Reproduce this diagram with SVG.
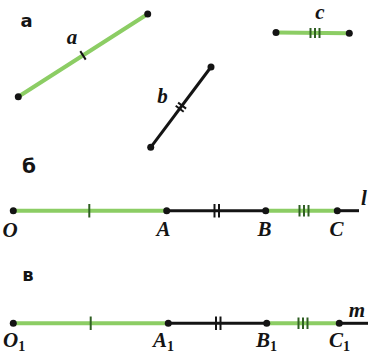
<svg xmlns="http://www.w3.org/2000/svg" width="369" height="360" viewBox="0 0 369 360">
<style>
.g{stroke:#8ccd64;stroke-width:4;stroke-linecap:round;fill:none}
.k{stroke:#141414;stroke-width:3;fill:none}
.tg{stroke:#2f5f22;stroke-width:2;fill:none}
.tk{stroke:#141414;stroke-width:2;fill:none}
.d{fill:#141414}
.lab{font-family:"Liberation Serif",serif;font-style:italic;font-weight:bold;font-size:21px;fill:#141414;text-anchor:middle}
.sub{font-style:normal;font-size:14px}
.sec{font-family:"DejaVu Sans",sans-serif;font-weight:bold;font-size:18px;fill:#141414;text-anchor:middle}
</style>
<rect width="369" height="360" fill="#ffffff"/>
<g id="sections">
<text class="sec" x="26.5" y="27">а</text>
<text class="sec" x="29" y="173" style="font-size:20px">б</text>
<text class="sec" x="28" y="281">в</text>
</g>
<g id="connectors">
<line class="g" x1="18.3" y1="96.7" x2="147.7" y2="14"/>
<line class="tk" x1="80.3" y1="51.1" x2="85.7" y2="59.6"/>
<line class="k" x1="150.7" y1="147.3" x2="211" y2="67"/>
<g transform="translate(180.9,107.2) rotate(-53.1)"><line class="tk" x1="-2" y1="-5" x2="-2" y2="5"/><line class="tk" x1="2" y1="-5" x2="2" y2="5"/></g>
<line class="g" x1="276" y1="32.5" x2="349.3" y2="33.3"/>
<line class="tg" x1="310.5" y1="28" x2="310.5" y2="38"/><line class="tg" x1="315" y1="28" x2="315" y2="38"/><line class="tg" x1="319.5" y1="28" x2="319.5" y2="38"/>
<line class="g" x1="13.3" y1="210.7" x2="166.7" y2="210.7"/>
<line class="k" x1="166.7" y1="210.7" x2="265.7" y2="210.7"/>
<line class="g" x1="265.7" y1="210.7" x2="337.3" y2="210.7"/>
<line class="k" x1="337.3" y1="210.7" x2="359" y2="210.7"/>
<line class="tg" x1="89.3" y1="204" x2="89.3" y2="217.5"/>
<line class="tk" x1="214.5" y1="204" x2="214.5" y2="217.5"/><line class="tk" x1="219" y1="204" x2="219" y2="217.5"/>
<line class="tg" x1="299.5" y1="205" x2="299.5" y2="216.5"/><line class="tg" x1="304" y1="205" x2="304" y2="216.5"/><line class="tg" x1="308.5" y1="205" x2="308.5" y2="216.5"/>
<line class="g" x1="13.3" y1="323.3" x2="168.3" y2="323.3"/>
<line class="k" x1="168.3" y1="323.3" x2="266.7" y2="323.3"/>
<line class="g" x1="266.7" y1="323.3" x2="339.3" y2="323.3"/>
<line class="k" x1="339.3" y1="323.3" x2="368" y2="323.3"/>
<line class="tg" x1="90.7" y1="316.5" x2="90.7" y2="330"/>
<line class="tk" x1="216" y1="316.5" x2="216" y2="330"/><line class="tk" x1="220.5" y1="316.5" x2="220.5" y2="330"/>
<line class="tg" x1="298.5" y1="317.5" x2="298.5" y2="329"/><line class="tg" x1="303" y1="317.5" x2="303" y2="329"/><line class="tg" x1="307.5" y1="317.5" x2="307.5" y2="329"/>
</g>
<g id="seg-a"><circle class="d" cx="18.3" cy="96.7" r="3.5"/><circle class="d" cx="147.7" cy="14" r="3.5"/><text class="lab" x="72" y="44">a</text></g>
<g id="seg-b"><circle class="d" cx="150.7" cy="147.3" r="3.5"/><circle class="d" cx="211" cy="67" r="3.5"/><text class="lab" x="162.5" y="103">b</text></g>
<g id="seg-c"><circle class="d" cx="276" cy="32.5" r="3.5"/><circle class="d" cx="349.3" cy="33.3" r="3.5"/><text class="lab" x="320" y="19">c</text></g>
<g id="O"><circle class="d" cx="13.3" cy="210.7" r="3.5"/><text class="lab" x="10" y="237">O</text></g>
<g id="A"><circle class="d" cx="166.7" cy="210.7" r="3.5"/><text class="lab" x="163.5" y="236">A</text></g>
<g id="B"><circle class="d" cx="265.7" cy="210.7" r="3.5"/><text class="lab" x="264.5" y="236">B</text></g>
<g id="C"><circle class="d" cx="337.3" cy="210.7" r="3.5"/><text class="lab" x="336.5" y="236">C</text></g>
<g id="l"><text class="lab" x="364" y="205">l</text></g>
<g id="O1"><circle class="d" cx="13.3" cy="323.3" r="3.5"/><text class="lab" x="3" y="347" style="text-anchor:start">O<tspan class="sub" dy="4">1</tspan></text></g>
<g id="A1"><circle class="d" cx="168.3" cy="323.3" r="3.5"/><text class="lab" x="153" y="347" style="text-anchor:start">A<tspan class="sub" dy="4">1</tspan></text></g>
<g id="B1"><circle class="d" cx="266.7" cy="323.3" r="3.5"/><text class="lab" x="256" y="347" style="text-anchor:start">B<tspan class="sub" dy="4">1</tspan></text></g>
<g id="C1"><circle class="d" cx="339.3" cy="323.3" r="3.5"/><text class="lab" x="329" y="347" style="text-anchor:start">C<tspan class="sub" dy="4">1</tspan></text></g>
<g id="m"><text class="lab" x="357" y="317">m</text></g>
</svg>
